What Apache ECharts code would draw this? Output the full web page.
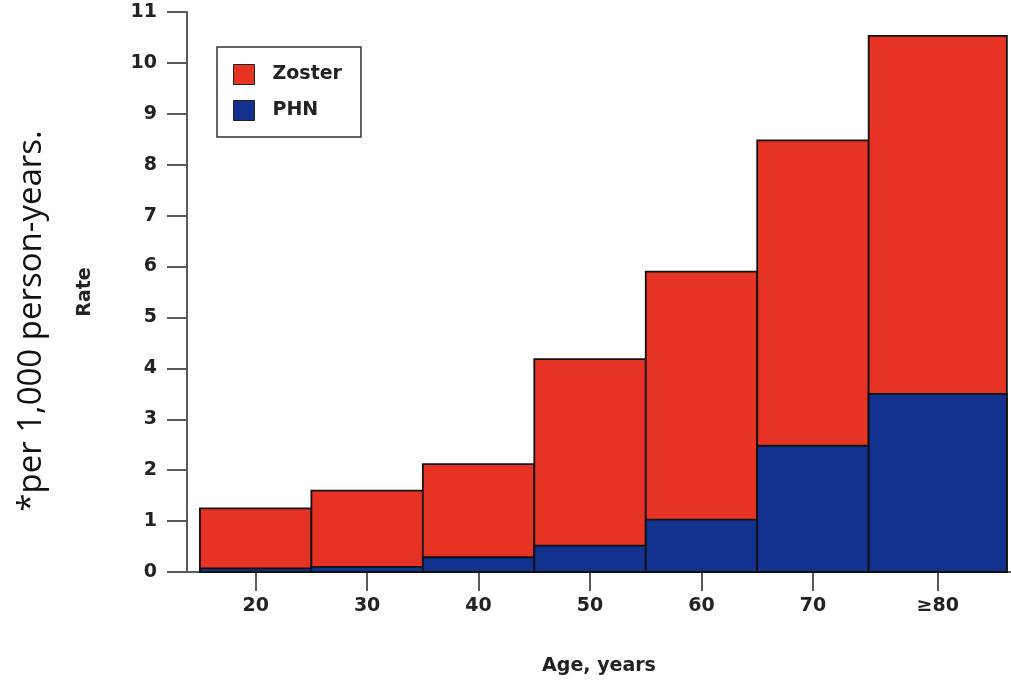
<!DOCTYPE html>
<html>
<head>
<meta charset="utf-8">
<script src="https://cdn.jsdelivr.net/npm/echarts@6/dist/echarts.min.js"></script>
<style>
html,body{margin:0;padding:0;background:#fff;overflow:hidden;}
#chart{width:1011px;height:680px;}
</style>
</head>
<body>
<div id="chart"></div>
<script>
// Age bins (years): lower and upper edges of each bar
const binStart = [15, 25, 35, 45, 55, 65, 75];
const binEnd = [25, 35, 45, 55, 65, 75, 87.4];
// Rates per 1,000 person-years
const zosterRate = [1.25, 1.6, 2.12, 4.18, 5.9, 8.48, 10.53];
const phnRate = [0.07, 0.1, 0.29, 0.52, 1.03, 2.48, 3.5];
// x tick positions and labels
const xTickValues = [20, 30, 40, 50, 60, 70, 81.2];
const xTickLabels = ['20', '30', '40', '50', '60', '70', '\u226580'];

const FONT = '"DejaVu Sans", Verdana, sans-serif';
const RED = '#E63323';
const BLUE = '#13318F';
const AXIS = '#5a5a5a';

function makeData(vals) {
  return vals.map((v, i) => [binStart[i], binEnd[i], v]);
}
function renderRect(params, api) {
  const tl = api.coord([api.value(0), api.value(2)]);
  const br = api.coord([api.value(1), 0]);
  return {
    type: 'rect',
    shape: { x: tl[0], y: tl[1], width: br[0] - tl[0], height: br[1] - tl[1] },
    style: { fill: api.visual('color'), stroke: '#111', lineWidth: 1.8 }
  };
}

const chart = echarts.init(document.getElementById('chart'), null, { renderer: 'canvas' });
chart.setOption({
  animation: false,
  backgroundColor: '#fff',
  grid: { left: 187, right: 0, top: 12, bottom: 108, containLabel: false, outerBoundsMode: 'none' },
  legend: {
    orient: 'vertical',
    left: 217, top: 47,
    padding: [17, 19, 16, 16],
    itemWidth: 21, itemHeight: 20, itemGap: 15,
    borderColor: '#333', borderWidth: 1.5,
    icon: 'rect',
    textStyle: { fontFamily: FONT, fontWeight: 'bold', fontSize: 19, lineHeight: 20, color: '#222', padding: [0, 0, 0, 13] },
    data: [
      { name: 'Zoster', itemStyle: { color: RED, borderColor: '#222', borderWidth: 1 } },
      { name: 'PHN', itemStyle: { color: BLUE, borderColor: '#222', borderWidth: 1 } }
    ]
  },
  xAxis: [{
    type: 'value',
    min: 13.84, max: 87.77,
    name: 'Age, years',
    nameLocation: 'middle',
    nameGap: 85,
    nameTextStyle: { fontFamily: FONT, fontWeight: 'bold', fontSize: 19, color: '#222' },
    axisLine: { show: true, onZero: false, lineStyle: { color: AXIS, width: 2 } },
    axisTick: { show: true, length: 19, customValues: xTickValues, lineStyle: { color: AXIS, width: 2 } },
    axisLabel: {
      customValues: xTickValues,
      margin: 25,
      fontFamily: FONT, fontWeight: 'bold', fontSize: 19, color: '#222',
      formatter: function (v) {
        const i = xTickValues.indexOf(v);
        return i >= 0 ? xTickLabels[i] : '';
      }
    },
    splitLine: { show: false }
  }, {
    type: 'value',
    position: 'top',
    min: 13.84, max: 87.77,
    axisLine: { show: true, lineStyle: { color: AXIS, width: 2 } },
    axisTick: { show: false },
    axisLabel: { show: false },
    splitLine: { show: false }
  }],
  yAxis: {
    type: 'value',
    min: 0, max: 11, interval: 1,
    name: 'Rate',
    nameLocation: 'middle',
    nameRotate: 90,
    nameGap: 92,
    nameTextStyle: { fontFamily: FONT, fontWeight: 'bold', fontSize: 19, color: '#222' },
    axisLine: { show: true, lineStyle: { color: AXIS, width: 2 } },
    axisTick: { show: true, length: 20, lineStyle: { color: AXIS, width: 2 } },
    axisLabel: { margin: 30, fontFamily: FONT, fontWeight: 'bold', fontSize: 19, color: '#222' },
    splitLine: { show: false }
  },
  graphic: [{
    type: 'text',
    x: 32, y: 321,
    rotation: Math.PI / 2,
    style: {
      text: '*per 1,000 person-years.',
      fontFamily: '"Open Sans", "Noto Sans", sans-serif',
      fontSize: 33,
      fill: '#111',
      align: 'center',
      verticalAlign: 'middle'
    }
  }],
  series: [{
    name: 'Zoster',
    type: 'custom',
    xAxisIndex: 0,
    itemStyle: { color: RED },
    renderItem: renderRect,
    encode: { x: [0, 1], y: 2 },
    data: makeData(zosterRate),
    z: 2
  }, {
    name: 'PHN',
    type: 'custom',
    xAxisIndex: 0,
    itemStyle: { color: BLUE },
    renderItem: renderRect,
    encode: { x: [0, 1], y: 2 },
    data: makeData(phnRate),
    z: 3
  }]
});
</script>
</body>
</html>
